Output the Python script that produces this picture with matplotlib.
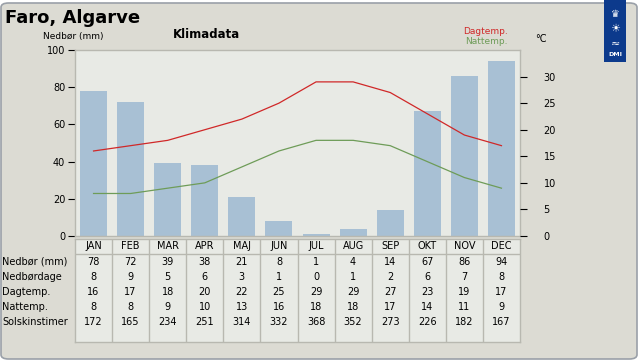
import matplotlib
matplotlib.use("Agg")
import matplotlib.pyplot as plt
from matplotlib.patches import FancyBboxPatch, Rectangle

months = ["JAN", "FEB", "MAR", "APR", "MAJ", "JUN", "JUL", "AUG", "SEP", "OKT", "NOV", "DEC"]
nedbor = [78, 72, 39, 38, 21, 8, 1, 4, 14, 67, 86, 94]
nedbordage = [8, 9, 5, 6, 3, 1, 0, 1, 2, 6, 7, 8]
dagtemp = [16, 17, 18, 20, 22, 25, 29, 29, 27, 23, 19, 17]
nattemp = [8, 8, 9, 10, 13, 16, 18, 18, 17, 14, 11, 9]
solskin = [172, 165, 234, 251, 314, 332, 368, 352, 273, 226, 182, 167]

row_labels = ["Nedbør (mm)", "Nedbørdage", "Dagtemp.", "Nattemp.", "Solskinstimer"]
rows = [nedbor, nedbordage, dagtemp, nattemp, solskin]

W, H = 640, 360
fig_bg = "#dcdbd3"
plot_bg = "#e8eae5"
bar_col = "#a8c0d4"
red = "#d02828"
green = "#6e9c58"
grid_col = "#b8b8b0"

fig = plt.figure(figsize=(6.4, 3.6), dpi=100)
fig.patch.set_facecolor("white")

# rounded frame around whole figure
frame = FancyBboxPatch((1 / W, 1 / H), 1 - 4 / W, 1 - 4 / H,
                       boxstyle="round,pad=0,rounding_size=0.012",
                       transform=fig.transFigure, facecolor=fig_bg,
                       edgecolor="#9aa0a8", linewidth=1.2, zorder=-10)
fig.patches.append(frame)

def fx(px):
    return px / W

def fy(py):
    return 1 - py / H

# main chart axes
x0, x1, y0, y1 = 75, 520, 50, 236
ax = fig.add_axes([fx(x0), fy(y1), fx(x1) - fx(x0), fy(y0) - fy(y1)])
ax.set_facecolor(plot_bg)
xs = list(range(len(months)))
ax.bar(xs, nedbor, width=0.73, color=bar_col, zorder=2)
ax.set_xlim(-0.5, 11.5)
ax.set_ylim(0, 100)
ax.set_yticks([0, 20, 40, 60, 80, 100])
ax.set_xticks([])
ax.tick_params(axis="y", labelsize=7, length=5, width=0.8, color="black", pad=2)
for s in ax.spines.values():
    s.set_color(grid_col)
    s.set_linewidth(1)

ax2 = ax.twinx()
ax2.plot(xs, dagtemp, color=red, linewidth=0.9, zorder=3)
ax2.plot(xs, nattemp, color=green, linewidth=0.9, zorder=3)
ax2.set_ylim(0, 35)
ax2.set_yticks([0, 5, 10, 15, 20, 25, 30])
ax2.tick_params(axis="y", labelsize=7, length=5, width=0.8, pad=12)
for s in ax2.spines.values():
    s.set_visible(False)

# table axes
t0, t1 = 239, 342
tax = fig.add_axes([fx(x0), fy(t1), fx(x1) - fx(x0), fy(t0) - fy(t1)])
tax.set_facecolor(plot_bg)
tax.set_xlim(0, 12)
tax.set_ylim(t1, t0)
tax.set_xticks([])
tax.set_yticks([])
for s in tax.spines.values():
    s.set_color(grid_col)
    s.set_linewidth(1)
for i in range(1, 12):
    tax.axvline(i, color=grid_col, linewidth=1)
tax.axhline(254, color=grid_col, linewidth=1)
for i, m in enumerate(months):
    tax.text(i + 0.5, 246.5, m, ha="center", va="center", fontsize=7)
row_y = [261.7, 276.7, 291.7, 306.7, 321.7]
for r, vals in enumerate(rows):
    for i, v in enumerate(vals):
        tax.text(i + 0.5, row_y[r], str(v), ha="center", va="center", fontsize=7)
    fig.text(fx(2), fy(row_y[r]), row_labels[r], ha="left", va="center", fontsize=7)

# titles and labels
fig.text(fx(5), fy(18), "Faro, Algarve", fontsize=13, fontweight="bold", va="center")
fig.text(fx(73), fy(36), "Nedbør (mm)", fontsize=6.5, ha="center", va="center")
fig.text(fx(206), fy(35), "Klimadata", fontsize=8.5, fontweight="bold", ha="center", va="center")
fig.text(fx(508), fy(32), "Dagtemp.", fontsize=6.5, color=red, ha="right", va="center")
fig.text(fx(508), fy(42), "Nattemp.", fontsize=6.5, color=green, ha="right", va="center")
fig.text(fx(541), fy(39), "°C", fontsize=7, ha="center", va="center")

# DMI logo block
logo = Rectangle((fx(604), fy(62)), fx(626) - fx(604), fy(0) - fy(62),
                 transform=fig.transFigure, facecolor="#0c3a8c", edgecolor="none")
fig.patches.append(logo)
fig.text(fx(615), fy(14), "♛", color="white", fontsize=7, ha="center", va="center")
fig.text(fx(615), fy(29), "☀", color="white", fontsize=8, ha="center", va="center")
fig.text(fx(615), fy(44), "≈", color="white", fontsize=8, ha="center", va="center")
fig.text(fx(615), fy(54), "DMI", color="white", fontsize=4.5, fontweight="bold", ha="center", va="center")

fig.savefig("out.png", dpi=100, facecolor=fig.get_facecolor())
